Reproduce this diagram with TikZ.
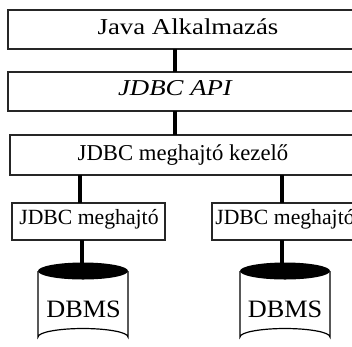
\documentclass[tikz,border=0pt]{standalone}
\usepackage{fontspec}
\setmainfont{Liberation Serif}
\begin{document}
\begin{tikzpicture}[x=1pt,y=-1pt,
  layer/.style={draw=black!85,line width=1.3pt,fill=white},
  link/.style={line width=4pt,black},
  lbl/.style={inner sep=0pt,anchor=base,font=\fontsize{22.7}{26}\selectfont},
  drv/.style={inner sep=0pt,anchor=base,font=\fontsize{21.7}{26}\selectfont},
  db/.style={inner sep=0pt,anchor=base,font=\fontsize{25}{28}\selectfont}]
\useasboundingbox (0,0) rectangle (352,346);
\begin{scope}
\clip (0,0) rectangle (352,346);
% layered boxes (they run past the right edge)
\draw[layer] (8,10) rectangle (370,49);
\coordinate (app) at (175,49);
\draw[layer] (8,72) rectangle (370,111);
\coordinate (apiT) at (175,72);
\coordinate (apiB) at (175,111);
\draw[layer] (10,135) rectangle (370,175);
\coordinate (mgrT) at (175,135);
\coordinate (mgrBL) at (80,175);
\coordinate (mgrBR) at (282,175);
\draw[layer] (12,203) rectangle (165,240);
\coordinate (drvLT) at (80,203);
\coordinate (drvLB) at (82,240);
\draw[layer] (212,203) rectangle (370,240);
\coordinate (drvRT) at (282,203);
\coordinate (drvRB) at (282,240);
% connectors
\draw[link] (app) -- (apiT);
\draw[link] (apiB) -- (mgrT);
\draw[link] (mgrBL) -- (drvLT);
\draw[link] (mgrBR) -- (drvRT);
% database cylinders
\foreach \cx/\nm in {83/L,285/R}{
  \draw[line width=1.2pt,fill=white] (\cx-45,271) -- (\cx-45,337)
     arc[start angle=180,end angle=360,x radius=45,y radius=8.5]
     -- (\cx+45,271);
  \fill[black] (\cx,271) ellipse[x radius=45,y radius=8.5];
  \coordinate (db\nm) at (\cx,266);
}
\draw[link] (drvLB) -- (drvLB |- dbL);
\draw[link] (drvRB) -- (drvRB |- dbR);
% labels
\node[lbl] (tapp) at (188,34) {\scalebox{1.18}[1]{Java Alkalmazás}};
\node[lbl] (tapi) at (175,95) {\scalebox{1.18}[1]{\itshape JDBC API}};
\node[lbl] (tmgr) at (183,160.5) {JDBC meghajtó kezelő};
\node[drv] (tdl) at (89,224.5) {JDBC meghajtó};
\node[drv] (tdr) at (285,224.5) {JDBC meghajtó};
\node[db] (tdbl) at (83.5,317) {\scalebox{1.05}[1]{DBMS}};
\node[db] (tdbr) at (285,317) {\scalebox{1.05}[1]{DBMS}};
\end{scope}
\end{tikzpicture}
\end{document}
